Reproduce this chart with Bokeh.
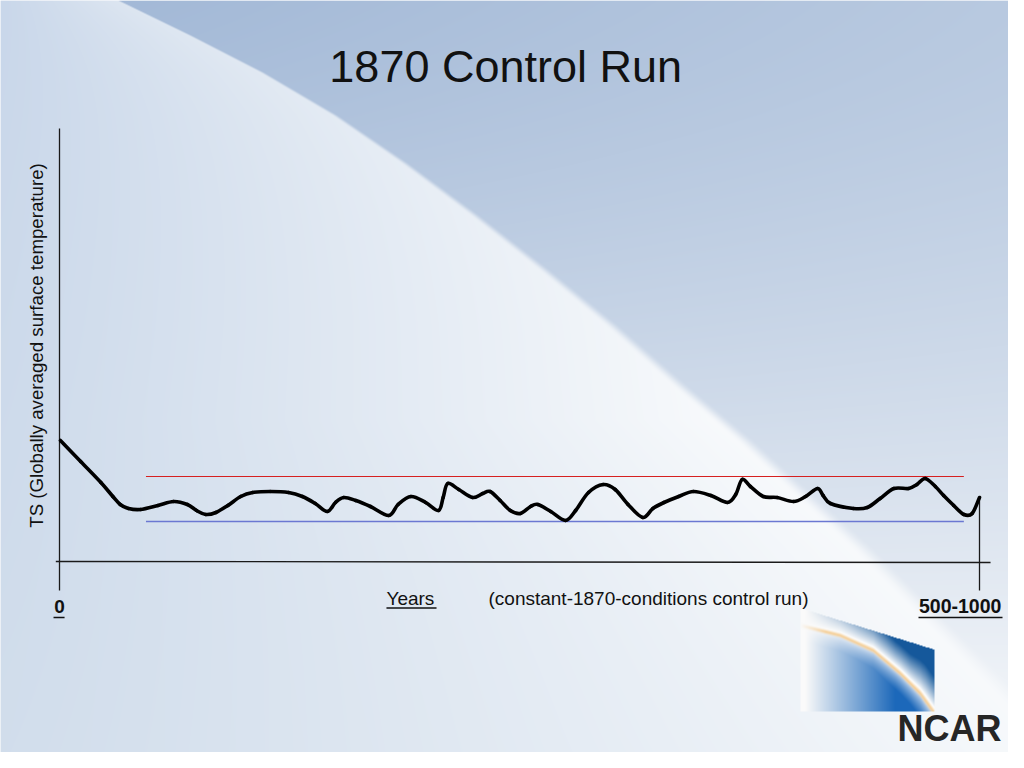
import numpy as np
from bokeh.plotting import figure
from bokeh.models import Range1d, Label
from bokeh.embed import file_html
from bokeh.resources import INLINE

# ---------------- data ----------------
years = [1, 23, 45, 58, 66, 75, 88, 107, 124, 139, 149, 159, 170, 183, 197, 210,
         229, 249, 264, 278, 291, 300, 309, 322, 338, 358, 368, 382, 398, 412, 417,
         422, 434, 449, 460, 468, 479, 490, 501, 512, 520, 534, 550, 561, 575, 591,
         604, 618, 634, 645, 657, 673, 689, 708, 726, 735, 742, 751, 765, 780, 798,
         811, 824, 830, 838, 863, 878, 892, 907, 923, 932, 941, 952, 961, 972, 983,
         992, 1000]
ts = [121, 100, 79, 65, 57, 53, 52, 56, 60, 57, 51, 47, 49, 56, 65, 69,
      70, 69, 65, 58, 50, 59, 64, 61, 55, 46, 57, 65, 59, 51, 64,
      78, 72, 64, 68, 70, 61, 51, 48, 55, 57, 50, 41, 51, 69, 77,
      72, 57, 44, 53, 59, 65, 70, 66, 59, 67, 82, 75, 65, 64, 60,
      65, 73, 66, 58, 53, 54, 63, 73, 73, 77, 83, 75, 66, 56, 47,
      48, 64]
band_years = [94, 983]
upper_level = 85
lower_level = 40

title_text = "1870 Control Run"
y_label_text = "TS (Globally averaged surface temperature)"
x_label_text = "Years"
x_note_text = "(constant-1870-conditions control run)"
x_start_label = "0"
x_end_label = "500-1000"
x_end_year = 1000

# axis extents (data units)
y_axis_top = 433
axis_low = -29
x_axis_left = -4
x_axis_right = 1012

# ---------------- figure ----------------
W, H = 1008, 752
X0, X1 = -64.13, 1031.52
Y0, Y1 = -191.0, 561.0

p = figure(width=W, height=H, x_range=Range1d(X0, X1), y_range=Range1d(Y0, Y1),
           output_backend="svg", toolbar_location=None, min_border=0,
           x_axis_type=None, y_axis_type=None)
p.outline_line_color = None
p.background_fill_color = "#eef2f7"
p.border_fill_color = "#eef2f7"

# ---------------- background artwork ----------------
SX, SY = np.meshgrid(np.arange(W) + 0.5, np.arange(H) + 0.5)


def mix(a, b, t):
    a = np.asarray(a, float)
    b = np.asarray(b, float)
    return a + (b - a) * t[..., None]


bx = [118, 190, 262, 335, 405, 475, 545, 612, 680, 745, 805, 865, 925, 985, 1045, 1110]
by = [0, 35, 72, 115, 163, 215, 270, 325, 385, 440, 495, 550, 610, 670, 730, 790]
xb = np.interp(SY, by, bx)

edge = mix((201, 215, 234), (210, 222, 236), np.clip(SY / 768, 0, 1))
inner = mix((221, 230, 241), (248, 250, 252), np.clip(SY / 420, 0, 1))
u = np.clip(SX / xb, 0, 1) ** 1.1
L = edge + (inner - edge) * u[..., None]

Db = mix((163, 185, 215), (238, 242, 247), np.clip(SY / 680, 0, 1))
d = np.clip((SX - xb) * 0.7, 0, None)
k = np.clip(d / 900, 0, 1) * 0.45
D = Db + (np.array((232, 238, 245), float) - Db) * k[..., None]

w = 2 + SY / 25
a = np.clip((SX - xb) / w + 0.5, 0, 1)
a = a * a * (3 - 2 * a)
C = L * (1 - a)[..., None] + D * a[..., None]

# logo
top = 620 + (SX - 840) * 0.31
m = (SX >= 800) & (SX <= 933.5) & (SY >= top) & (SY <= 710.5)
ya = np.interp(SX, [800, 840, 873, 900, 920, 930, 940], [625, 635, 650, 673, 693, 707, 721])
sl = np.interp(SX, [820, 856.5, 886.5, 910, 925, 935], [0.25, 0.45, 0.85, 1.0, 1.4, 1.4])
s = (SY - ya) / np.sqrt(1 + sl ** 2)
below = mix((228, 236, 248), (28, 104, 186), np.clip((s - 1) / 14, 0, 1) ** 0.6)
above = mix((255, 255, 255), (21, 88, 155), np.clip((-s - 3) / 18, 0, 1) ** 0.9)
logo = np.where((s > 0)[..., None], below, above)
f = np.clip((SX - 805) / 90, 0, 1)[..., None]
blend = np.full_like(C, 250.0) * (1 - f) + logo * f
oa = (np.clip(1 - np.abs(s) / 2.8, 0, 1) * np.clip((SX - 800) / 25, 0, 1) * 0.9)[..., None]
blend = blend * (1 - oa) + np.array((245, 200, 135), float) * oa
C = np.where(m[..., None], blend, C)

rgba = np.empty((H, W, 4), dtype=np.uint8)
rgba[..., :3] = np.clip(C, 0, 255).astype(np.uint8)
rgba[..., 3] = 255
img = np.ascontiguousarray(rgba[::-1]).view(np.uint32).reshape(H, W)
p.image_rgba(image=[img], x=X0, y=Y0, dw=X1 - X0, dh=Y1 - Y0)

# ---------------- chart ----------------
axis_color = "#1a1a1a"
p.line([0, 0], [axis_low, y_axis_top], line_color=axis_color, line_width=1.3)
p.line([x_axis_left, x_axis_right], [0, -1], line_color=axis_color, line_width=1.3)
p.line([x_end_year, x_end_year], [axis_low, ts[-1]], line_color=axis_color, line_width=1.3)

p.line(band_years, [upper_level, upper_level], line_color="#d62020", line_width=1.2)
p.line(band_years, [lower_level, lower_level], line_color="#6b78d2", line_width=1.3)

# smooth curve through the read points (Catmull-Rom as cubic Bezier segments)
P = np.column_stack([years, ts]).astype(float)
Pm = np.vstack([P[:1], P[:-1]])
Pp2 = np.vstack([P[2:], P[-1:]])
p1, p2 = P[:-1], P[1:]
p0, p3 = Pm[:-1], Pp2
c0 = p1 + (p2 - p0) / 6.0
c1 = p2 - (p3 - p1) / 6.0
p.bezier(x0=p1[:, 0], y0=p1[:, 1], x1=p2[:, 0], y1=p2[:, 1],
         cx0=c0[:, 0], cy0=c0[:, 1], cx1=c1[:, 0], cy1=c1[:, 1],
         line_color="black", line_width=3.6, line_cap="round")

FONT = "Liberation Sans"


def add_label(x, y, text, size, align="left", style="normal", angle=0.0,
              color="#111111", font=FONT):
    p.add_layout(Label(x=x, y=y, text=text, text_font=font, text_font_size=size,
                       text_align=align, text_baseline="middle", text_font_style=style,
                       angle=angle, text_color=color))


add_label(485, 495.5, title_text, "45px", align="center")
add_label(-24.5, 216, y_label_text, "18.7px", align="center", angle=np.pi / 2)
add_label(355.4, -36.5, x_label_text, "19px")
add_label(466.3, -36.5, x_note_text, "19px")
add_label(0, -44.5, x_start_label, "19px", align="center", style="bold")
add_label(979, -44.5, x_end_label, "19.5px", align="center", style="bold")
add_label(1024, -167, "NCAR", "36px", align="right", style="bold", color="#262626")

# underlines
ul_w = 1.5
p.line([355.4, 409.8], [-46.5, -46.5], line_color="#111111", line_width=ul_w)
p.line([-6.5, 5.5], [-56, -56], line_color="#111111", line_width=ul_w)
p.line([933.7, 1025], [-56, -56], line_color="#111111", line_width=ul_w)

open("out.html", "w").write(file_html(p, INLINE))
